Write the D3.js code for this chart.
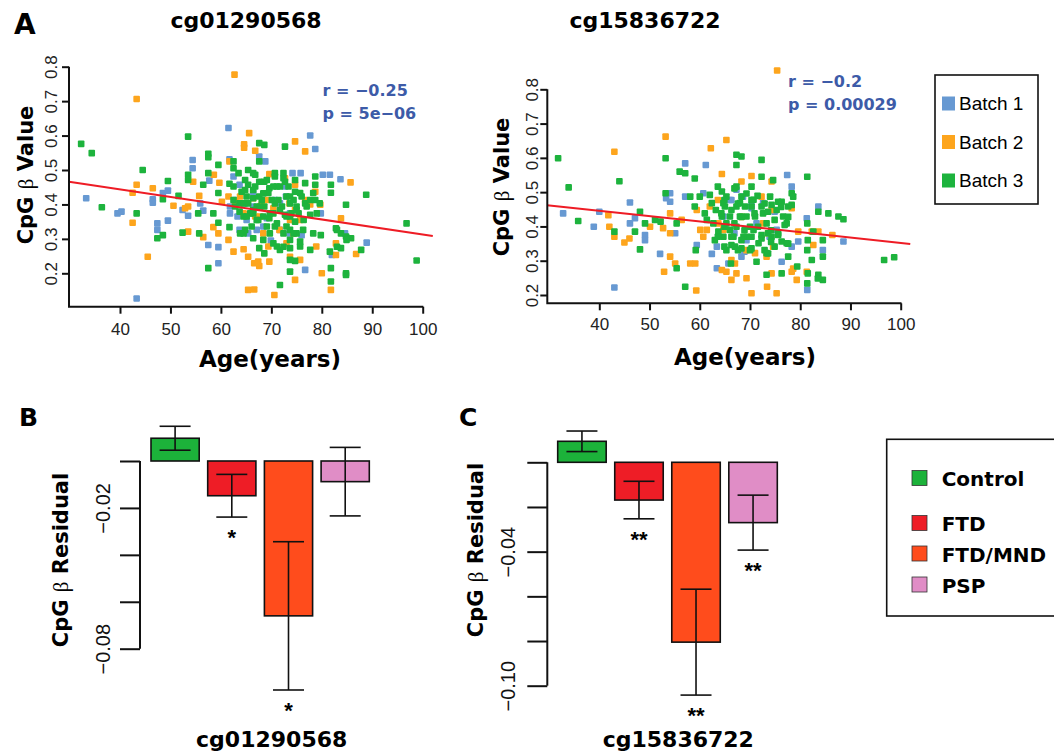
<!DOCTYPE html>
<html>
<head>
<meta charset="utf-8">
<script src="https://cdn.jsdelivr.net/npm/d3@7"></script>
<style>
  body { margin: 0; background: #fff; }
  svg { display: block; }
</style>
</head>
<body>
<script>
// Drawing area
const w = 1054;
const h = 755;

// ---- data: panel A, [age, CpG beta] per batch ----
const cg01Batch1 = [[33.3,0.418],[39.5,0.374],[40.3,0.379],[43.3,0.127],[46.5,0.415],[46.5,0.405],[47.4,0.345],[47.4,0.326],[48.5,0.433],[49.5,0.44],[49.5,0.353],[52.4,0.384],[53.5,0.367],[54.4,0.529],[54.4,0.505],[55.9,0.403],[56.5,0.382],[57.5,0.282],[57.7,0.469],[59.5,0.276],[59.5,0.229],[61.5,0.622],[61.7,0.531],[62.5,0.481],[62.8,0.413],[63.3,0.365],[63.7,0.457],[63.7,0.326],[64.8,0.403],[65.4,0.316],[66.4,0.434],[67.6,0.539],[68.8,0.525],[69.1,0.36],[69.9,0.295],[70.7,0.413],[71.7,0.326],[72.9,0.423],[73.7,0.374],[74.2,0.491],[75.8,0.491],[76.0,0.311],[76.7,0.21],[77.7,0.60],[78.7,0.561],[79.8,0.374],[80.2,0.486],[81.6,0.486],[82,0.253],[83.7,0.473],[88.9,0.289],[61.8,0.374],[63.8,0.374],[65.1,0.355],[61.8,0.394],[66.4,0.394],[67.1,0.326],[68.4,0.336],[72.7,0.452],[73.6,0.316],[71.7,0.403],[84.6,0.316]];
const cg01Batch2 = [[62.7,0.777],[43.3,0.706],[65.6,0.607],[64.6,0.575],[64.6,0.565],[66.8,0.556],[74.7,0.583],[76.7,0.554],[61.7,0.525],[58.6,0.486],[59.7,0.463],[54.5,0.466],[69.6,0.488],[72.7,0.476],[74.7,0.457],[78.7,0.437],[85.7,0.464],[43.3,0.457],[42.5,0.434],[46.5,0.447],[50.6,0.396],[53.5,0.394],[55.7,0.425],[60.2,0.408],[61.5,0.423],[42.5,0.347],[52.9,0.389],[53.5,0.321],[56.5,0.305],[58.5,0.334],[59.5,0.316],[61.5,0.297],[62.5,0.263],[64.5,0.27],[65.4,0.248],[66.6,0.229],[67.6,0.221],[67.4,0.234],[65.4,0.152],[66.6,0.153],[69.6,0.234],[70.6,0.137],[73.7,0.248],[74.7,0.181],[75.7,0.239],[78.9,0.278],[80,0.20],[81.8,0.152],[82.8,0.287],[82.8,0.253],[83.8,0.36],[86.8,0.256],[45.5,0.248],[69.4,0.278],[71.6,0.326],[62.8,0.408],[66.4,0.418],[68.1,0.40],[69.1,0.413],[70.4,0.389],[73.6,0.403],[74.7,0.384],[76.7,0.413],[77.7,0.40],[79.7,0.399],[63.8,0.423],[64.5,0.374],[66.8,0.365],[67.8,0.365],[68.4,0.316],[73.0,0.287],[74.4,0.316],[75.7,0.355],[73.7,0.355]];
const cg01Batch3 = [[32.3,0.576],[34.4,0.549],[36.4,0.392],[43.3,0.374],[44.5,0.50],[47.4,0.302],[48.5,0.311],[48.5,0.415],[49.5,0.468],[51.6,0.425],[52.4,0.318],[53.5,0.597],[53.5,0.486],[53.5,0.471],[55.5,0.374],[55.7,0.316],[56.5,0.457],[57.5,0.547],[57.5,0.537],[57.5,0.215],[57.5,0.491],[58.5,0.374],[59.5,0.515],[59.5,0.433],[59.5,0.347],[61.7,0.46],[61.7,0.334],[62.5,0.525],[62.5,0.505],[63.7,0.403],[63.7,0.379],[64.5,0.365],[65.4,0.50],[65.4,0.457],[65.4,0.403],[66.4,0.491],[66.4,0.418],[66.4,0.302],[67.6,0.578],[67.6,0.525],[67.6,0.466],[67.6,0.423],[67.6,0.273],[68.6,0.573],[68.6,0.466],[68.6,0.394],[68.6,0.258],[69.6,0.447],[69.6,0.36],[70.7,0.491],[70.7,0.481],[70.7,0.403],[70.7,0.336],[71.7,0.452],[71.7,0.268],[71.7,0.166],[72.7,0.568],[72.7,0.466],[72.7,0.37],[73.7,0.403],[73.7,0.326],[73.7,0.273],[73.7,0.205],[74.7,0.437],[74.7,0.35],[74.7,0.236],[75.7,0.433],[75.7,0.278],[76.7,0.462],[76.7,0.403],[77.7,0.413],[77.7,0.37],[77.7,0.268],[78.7,0.481],[78.7,0.413],[79.8,0.311],[81.8,0.457],[81.8,0.434],[81.8,0.215],[81.8,0.176],[82.8,0.331],[83.8,0.316],[83.8,0.273],[84.8,0.399],[84.8,0.307],[84.8,0.20],[84.8,0.195],[85.8,0.302],[87.8,0.268],[88.8,0.428],[96.8,0.345],[98.8,0.237],[62.5,0.452],[62.8,0.394],[63.5,0.491],[64.1,0.437],[64.8,0.471],[65.1,0.423],[65.8,0.374],[66.1,0.336],[66.8,0.452],[67.1,0.394],[68.1,0.413],[68.4,0.365],[69.1,0.471],[69.4,0.433],[70.1,0.413],[70.4,0.374],[71.1,0.452],[71.4,0.413],[72.1,0.394],[72.4,0.491],[73.0,0.423],[73.4,0.452],[74.0,0.374],[74.4,0.413],[75.0,0.394],[75.4,0.374],[76.0,0.423],[76.4,0.355],[77.0,0.394],[78.3,0.433],[62.5,0.413],[63.8,0.316],[64.8,0.326],[72.4,0.316],[73.0,0.365],[75.0,0.316],[66.4,0.374],[67.4,0.355],[69.7,0.316],[71.1,0.278],[66.8,0.486],[72.4,0.476],[74.7,0.471],[78.7,0.457],[64.8,0.442],[66.4,0.442],[68.4,0.432],[70.4,0.452],[73.7,0.423],[79.6,0.403],[64.5,0.403],[66.4,0.384],[67.8,0.394],[69.7,0.374],[71.7,0.384],[73.7,0.365],[75.0,0.384],[79.0,0.374],[65.1,0.365],[67.1,0.355],[69.1,0.336],[71.1,0.345],[73.0,0.336],[74.4,0.316],[76.3,0.326],[78.3,0.316],[83,0.326],[84.9,0.297],[64.5,0.316],[68.4,0.297],[70.4,0.287],[72.4,0.277],[73.7,0.297],[75.7,0.292],[81.6,0.263],[83,0.277],[73.7,0.239]];

const cg15Batch1 = [[32.8,0.438],[38.9,0.399],[40,0.443],[43,0.222],[46.1,0.47],[46.1,0.409],[47.1,0.424],[49.1,0.375],[49.1,0.36],[52.1,0.32],[53.3,0.482],[54.1,0.497],[54.1,0.472],[55.1,0.38],[57.1,0.584],[57.1,0.487],[59.4,0.346],[61.2,0.579],[62.4,0.32],[63.4,0.278],[63.4,0.341],[65.7,0.292],[67.3,0.507],[68.3,0.312],[69.3,0.36],[70.3,0.463],[75.3,0.39],[76.3,0.297],[77.4,0.55],[78.3,0.516],[78.3,0.341],[79.6,0.356],[81.3,0.424],[81.4,0.215],[83.6,0.458],[84.5,0.331],[88.6,0.356],[66,0.477],[64.7,0.429],[72.6,0.468],[60.7,0.497],[71.3,0.409],[73.9,0.37],[66.3,0.477],[68.6,0.487],[70.3,0.453],[74.9,0.443],[68.9,0.326],[66.9,0.38]];
const cg15Batch2 = [[75.4,0.855],[53.2,0.662],[65.3,0.652],[43,0.618],[62.2,0.628],[64.4,0.553],[70.3,0.547],[74.3,0.531],[68.3,0.531],[41.8,0.433],[42,0.399],[43,0.37],[45,0.353],[46,0.365],[50.1,0.399],[52.7,0.395],[54.1,0.438],[54.1,0.38],[54.1,0.312],[55.1,0.292],[52.9,0.268],[58.1,0.292],[59.1,0.292],[59.3,0.213],[56.4,0.419],[59.4,0.448],[60.1,0.39],[61.4,0.39],[62,0.458],[63.7,0.409],[64.4,0.273],[65.3,0.268],[66.3,0.244],[67,0.292],[69.3,0.249],[70.3,0.205],[71,0.322],[72.3,0.487],[73.3,0.312],[73.4,0.224],[74.3,0.263],[75.3,0.205],[78.3,0.268],[79.3,0.244],[79.6,0.385],[81.3,0.268],[82.3,0.385],[83.6,0.385],[86.4,0.375],[78.3,0.453],[74.3,0.448],[60.7,0.37],[64.7,0.39],[69.3,0.331],[72.6,0.409],[74.6,0.341],[82.6,0.346],[63.6,0.477],[68.3,0.428],[73.6,0.38],[66.3,0.302],[67.3,0.263],[78.6,0.277]];
const cg15Batch3 = [[31.8,0.599],[33.9,0.514],[35.8,0.416],[43,0.385],[44,0.532],[48.1,0.443],[48.1,0.333],[47.1,0.385],[49.1,0.409],[51.1,0.419],[52.2,0.414],[53.2,0.599],[53.2,0.497],[55.4,0.278],[55.4,0.409],[56,0.56],[57.1,0.555],[57.1,0.224],[58.1,0.487],[59,0.54],[59,0.458],[59.2,0.331],[60,0.487],[61,0.438],[62,0.492],[62.4,0.468],[63.2,0.448],[64.4,0.502],[64.4,0.429],[64.7,0.37],[65.3,0.487],[65.3,0.409],[66.2,0.292],[66.3,0.346],[67.3,0.609],[67.3,0.579],[67.3,0.516],[67.3,0.458],[67.3,0.399],[68.3,0.604],[68.3,0.487],[68.3,0.336],[69.3,0.429],[69.3,0.37],[70.3,0.516],[70.3,0.458],[70.7,0.39],[71.3,0.297],[71.5,0.489],[72.3,0.594],[72.3,0.545],[72.3,0.458],[72.3,0.375],[73.3,0.409],[73.3,0.322],[73.3,0.259],[74.3,0.463],[74.3,0.37],[75.3,0.448],[76.3,0.472],[76.3,0.356],[76.3,0.263],[77.3,0.409],[77.3,0.351],[78.3,0.497],[78.3,0.463],[79.4,0.283],[81.4,0.545],[81.4,0.409],[81.4,0.331],[81.4,0.234],[82.3,0.302],[82.6,0.385],[83.6,0.443],[84.5,0.36],[84.5,0.312],[83.6,0.259],[84.5,0.244],[85.6,0.438],[87.6,0.429],[88.6,0.421],[96.7,0.302],[98.7,0.31],[61.4,0.419],[62.7,0.409],[63.7,0.385],[65,0.458],[66,0.429],[66.7,0.37],[68,0.429],[68.7,0.37],[69,0.458],[70,0.399],[71,0.429],[71.7,0.351],[72.6,0.438],[73.6,0.38],[74.9,0.419],[75.6,0.375],[76.6,0.429],[65.3,0.331],[67,0.341],[70,0.331],[64.7,0.468],[63,0.36],[66,0.39],[68,0.468],[70.7,0.478],[74,0.487],[77.6,0.458],[74.6,0.535],[63.6,0.516],[66.9,0.511],[69.3,0.496],[64.9,0.477],[67.6,0.467],[70.3,0.477],[72.9,0.467],[75.6,0.472],[78.6,0.487],[64.3,0.438],[66.3,0.448],[68.3,0.428],[70.9,0.438],[73.6,0.443],[76.2,0.457],[77.6,0.428],[64.9,0.399],[66.9,0.409],[68.9,0.389],[71.6,0.399],[74.2,0.389],[76.9,0.404],[63.6,0.37],[66.3,0.37],[68.3,0.36],[70.3,0.37],[72.3,0.365],[74.2,0.355],[75.6,0.38],[77.6,0.35],[81.5,0.36],[64.9,0.341],[67.6,0.331],[70.3,0.336],[72.9,0.331],[74.9,0.341],[73.6,0.321],[77.6,0.312],[81.5,0.263],[83.5,0.248]];

// fitted lines, [age, beta] at both ends
const cg01Fit = [[29.9,0.466],[102,0.308]];
const cg15Fit = [[29.6,0.462],[101.9,0.349]];
const cg01Stats = ["r = \u22120.25", "p = 5e\u221206"];
const cg15Stats = ["r = \u22120.2", "p = 0.00029"];

const ageTicks = [40,50,60,70,80,90,100];
const betaTicks = [0.2,0.3,0.4,0.5,0.6,0.7,0.8];
const batchNames = ["Batch 1","Batch 2","Batch 3"];
const batchColors = ["#6799d2","#fda51d","#1db33d"];

// ---- data: panels B and C, residual means and standard errors ----
const groups = ["Control","FTD","FTD/MND","PSP"];
const groupColors = ["#1cb23a","#ee1d26","#ff4c1c","#e08dc6"];
const cg01Means = [0.0097,-0.0148,-0.066,-0.0088];
const cg01Se = [0.0051,0.0091,0.0316,0.0146];
const cg01Sig = ["","*","*",""];
const cg15Means = [0.0094,-0.0169,-0.0805,-0.027];
const cg15Se = [0.0046,0.0084,0.0237,0.0123];
const cg15Sig = ["","**","**","**"];
const cg01ResTicks = [0,-0.02,-0.04,-0.06,-0.08];
const cg01ResLabels = [-0.02,-0.08];
const cg15ResTicks = [0,-0.02,-0.04,-0.06,-0.08,-0.10];
const cg15ResLabels = [-0.04,-0.10];

const boldFont = "'DejaVu Sans', sans-serif";
const tickFont = "'Liberation Sans', Arial, sans-serif";

const svg = d3.select("body").append("svg").attr("width", w).attr("height", h);

// Rotated y label with a thin beta in the middle
function yLabel(x, y, word) {
  const t = svg.append("text")
    .attr("transform", "translate(" + x + "," + y + ") rotate(-90)")
    .attr("text-anchor", "middle")
    .style("font-family", boldFont).style("font-weight", "bold").style("font-size", "21px");
  t.append("tspan").text("CpG ");
  t.append("tspan").style("font-family", "'Liberation Serif', serif").style("font-weight", "normal").text("\u03b2");
  t.append("tspan").text(" " + word);
}

// Scatter panel (A)
function scatter(cfg) {
  const x = d3.scaleLinear().domain([40, 100]).range(cfg.xr);
  const y = d3.scaleLinear().domain([0.2, 0.8]).range(cfg.yr);
  const g = svg.append("g");

  cfg.batches.forEach((pts, i) => {
    g.selectAll(null).data(pts).enter().append("rect")
      .attr("x", d => x(d[0]) - 3.3)
      .attr("y", d => y(d[1]) - 3.3)
      .attr("width", 6.6).attr("height", 6.6).attr("rx", 1)
      .attr("fill", batchColors[i]);
  });

  g.append("line")
    .attr("x1", x(cfg.fit[0][0])).attr("y1", y(cfg.fit[0][1]))
    .attr("x2", x(cfg.fit[1][0])).attr("y2", y(cfg.fit[1][1]))
    .attr("stroke", "#ee1c25").attr("stroke-width", 2);

  // axes
  const gx = g.append("g").attr("transform", "translate(0," + cfg.axisY + ")")
    .call(d3.axisBottom(x).tickValues(ageTicks).tickSize(7).tickSizeOuter(0));
  gx.select(".domain").remove();
  gx.selectAll("line").attr("stroke", "#111").attr("stroke-width", 2);
  gx.selectAll("text").attr("y", cfg.xLabOff).attr("dy", 0).attr("fill", "#222")
    .style("font-family", tickFont).style("font-size", "17px");

  const gy = g.append("g").attr("transform", "translate(" + cfg.axisX + ",0)")
    .call(d3.axisLeft(y).tickValues(betaTicks).tickSize(7).tickSizeOuter(0).tickFormat(d3.format(".1f")));
  gy.select(".domain").remove();
  gy.selectAll("line").attr("stroke", "#111").attr("stroke-width", 2);
  gy.selectAll("text").attr("x", 0).attr("dy", 0).attr("fill", "#222")
    .attr("text-anchor", "middle")
    .attr("transform", "translate(" + (-cfg.yLabOff) + ",0) rotate(-90)")
    .style("font-family", tickFont).style("font-size", "17px");

  // L-shaped frame
  g.append("path")
    .attr("d", "M" + cfg.axisX + "," + y(0.8) + "V" + cfg.axisY + "H" + cfg.xEnd)
    .attr("fill", "none").attr("stroke", "#111").attr("stroke-width", 2);

  // title, axis title, stats
  svg.append("text").attr("x", cfg.titleX).attr("y", 28).attr("text-anchor", "middle")
    .style("font-family", boldFont).style("font-weight", "bold").style("font-size", "22px")
    .text(cfg.title);
  svg.append("text").attr("x", cfg.ageX).attr("y", cfg.ageY).attr("text-anchor", "middle")
    .style("font-family", boldFont).style("font-weight", "bold").style("font-size", "23px")
    .text("Age(years)");
  yLabel(cfg.labX, cfg.labY, "Value");
  cfg.stats.forEach((s, i) => {
    svg.append("text").attr("x", cfg.statX).attr("y", cfg.statY + i * 23)
      .attr("fill", "#3d5ba8")
      .style("font-family", boldFont).style("font-weight", "bold").style("font-size", "16px")
      .text(s);
  });
}

// Bar panel (B, C)
function bars(cfg) {
  const x = d3.scaleBand().domain(groups).range(cfg.xr).paddingInner(0.15);
  const y = d3.scaleLinear().domain(cfg.yd).range(cfg.yr);
  const rows = groups.map((gname, i) => ({ g: gname, m: cfg.means[i], se: cfg.se[i], sig: cfg.sig[i], c: groupColors[i] }));
  const g = svg.append("g");

  g.selectAll("rect").data(rows).enter().append("rect")
    .attr("x", d => x(d.g))
    .attr("y", d => Math.min(y(0), y(d.m)))
    .attr("width", x.bandwidth())
    .attr("height", d => Math.abs(y(d.m) - y(0)))
    .attr("fill", d => d.c).attr("stroke", "#111").attr("stroke-width", 1.6);

  const cx = d => x(d.g) + x.bandwidth() / 2;
  const eb = g.selectAll(".err").data(rows).enter().append("g").attr("class", "err")
    .attr("stroke", "#111").attr("stroke-width", 1.6);
  eb.append("line").attr("x1", cx).attr("x2", cx)
    .attr("y1", d => y(d.m + d.se)).attr("y2", d => y(d.m - d.se));
  eb.append("line").attr("x1", d => cx(d) - 15.5).attr("x2", d => cx(d) + 15.5)
    .attr("y1", d => y(d.m + d.se)).attr("y2", d => y(d.m + d.se));
  eb.append("line").attr("x1", d => cx(d) - 15.5).attr("x2", d => cx(d) + 15.5)
    .attr("y1", d => y(d.m - d.se)).attr("y2", d => y(d.m - d.se));

  g.selectAll(".sig").data(rows).enter().append("text").attr("class", "sig")
    .attr("x", cx).attr("y", d => y(d.m - d.se) + 28)
    .attr("text-anchor", "middle")
    .style("font-family", tickFont).style("font-weight", "bold").style("font-size", "22px")
    .text(d => d.sig);

  const fmt = d3.format(".2f");
  const ga = g.append("g").attr("transform", "translate(" + cfg.axisX + ",0)")
    .call(d3.axisLeft(y).tickValues(cfg.ticks).tickSize(20).tickSizeOuter(0)
      .tickFormat(d => cfg.labels.includes(d) ? fmt(d) : ""));
  ga.select(".domain").attr("stroke", "#111").attr("stroke-width", 2)
    .attr("d", "M0," + y(cfg.ticks[0]) + "V" + y(cfg.ticks[cfg.ticks.length - 1]));
  ga.selectAll("line").attr("stroke", "#111").attr("stroke-width", 2);
  ga.selectAll("text").attr("x", 0).attr("dy", 0).attr("fill", "#111")
    .attr("text-anchor", "middle")
    .attr("transform", "translate(" + (-cfg.labOff) + ",0) rotate(-90)")
    .style("font-family", tickFont).style("font-size", "20px");

  yLabel(cfg.labX, cfg.labY, "Residual");
  svg.append("text").attr("x", cfg.titleX).attr("y", 747).attr("text-anchor", "middle")
    .style("font-family", boldFont).style("font-weight", "bold").style("font-size", "22px")
    .text(cfg.title);
  svg.append("text").attr("x", cfg.letterX).attr("y", 426)
    .style("font-family", boldFont).style("font-weight", "bold").style("font-size", "25px")
    .text(cfg.letter);
}

scatter({
  batches: [cg01Batch1, cg01Batch2, cg01Batch3], fit: cg01Fit, stats: cg01Stats,
  xr: [120, 422.7], yr: [273.3, 66.7], axisX: 69, axisY: 306.7, xEnd: 423.3,
  xLabOff: 28.5, yLabOff: 12, title: "cg01290568", titleX: 246,
  ageX: 270, ageY: 367, labX: 33, labY: 175, statX: 322.5, statY: 95.5
});
scatter({
  batches: [cg15Batch1, cg15Batch2, cg15Batch3], fit: cg15Fit, stats: cg15Stats,
  xr: [599.3, 900.7], yr: [295, 89.3], axisX: 547.3, axisY: 303.3, xEnd: 901.5,
  xLabOff: 26.7, yLabOff: 9.5, title: "cg15836722", titleX: 645,
  ageX: 745, ageY: 365, labX: 509, labY: 187, statX: 788, statY: 86.7
});

svg.append("text").attr("x", 14).attr("y", 34)
  .style("font-family", boldFont).style("font-weight", "bold").style("font-size", "28px").text("A");

bars({
  means: cg01Means, se: cg01Se, sig: cg01Sig, ticks: cg01ResTicks, labels: cg01ResLabels,
  xr: [151, 369.3], yd: [0, -0.08], yr: [461, 648.7], axisX: 140, labOff: 30,
  labX: 68, labY: 560, title: "cg01290568", titleX: 271.7, letter: "B", letterX: 19
});
bars({
  means: cg15Means, se: cg15Se, sig: cg15Sig, ticks: cg15ResTicks, labels: cg15ResLabels,
  xr: [557.7, 777.3], yd: [0, -0.10], yr: [462.3, 685.7], axisX: 547.3, labOff: 32,
  labX: 483, labY: 550, title: "cg15836722", titleX: 678.3, letter: "C", letterX: 459
});

// Batch legend (top right)
svg.append("rect").attr("x", 935).attr("y", 75).attr("width", 103).attr("height", 129)
  .attr("fill", "none").attr("stroke", "#111").attr("stroke-width", 1.6);
const batchRows = [103.5, 142, 180.5];
batchNames.forEach((nm, i) => {
  svg.append("rect").attr("x", 942).attr("y", batchRows[i] - 7).attr("width", 13).attr("height", 14)
    .attr("fill", batchColors[i]);
  svg.append("text").attr("x", 959).attr("y", batchRows[i] + 6.5)
    .style("font-family", tickFont).style("font-size", "19px").text(nm);
});

// Group legend (bottom right)
svg.append("rect").attr("x", 886.7).attr("y", 439.3).attr("width", 200).attr("height", 176.7)
  .attr("fill", "none").attr("stroke", "#111").attr("stroke-width", 1.6);
const groupRows = [478, 523, 553.5, 584.5];
groups.forEach((nm, i) => {
  svg.append("rect").attr("x", 912).attr("y", groupRows[i] - 7.5).attr("width", 15).attr("height", 15)
    .attr("fill", groupColors[i]).attr("stroke", "#333").attr("stroke-width", 0.8);
  svg.append("text").attr("x", 941.7).attr("y", groupRows[i] + 8)
    .style("font-family", boldFont).style("font-weight", "bold").style("font-size", "20px").text(nm);
});
</script>
</body>
</html>
